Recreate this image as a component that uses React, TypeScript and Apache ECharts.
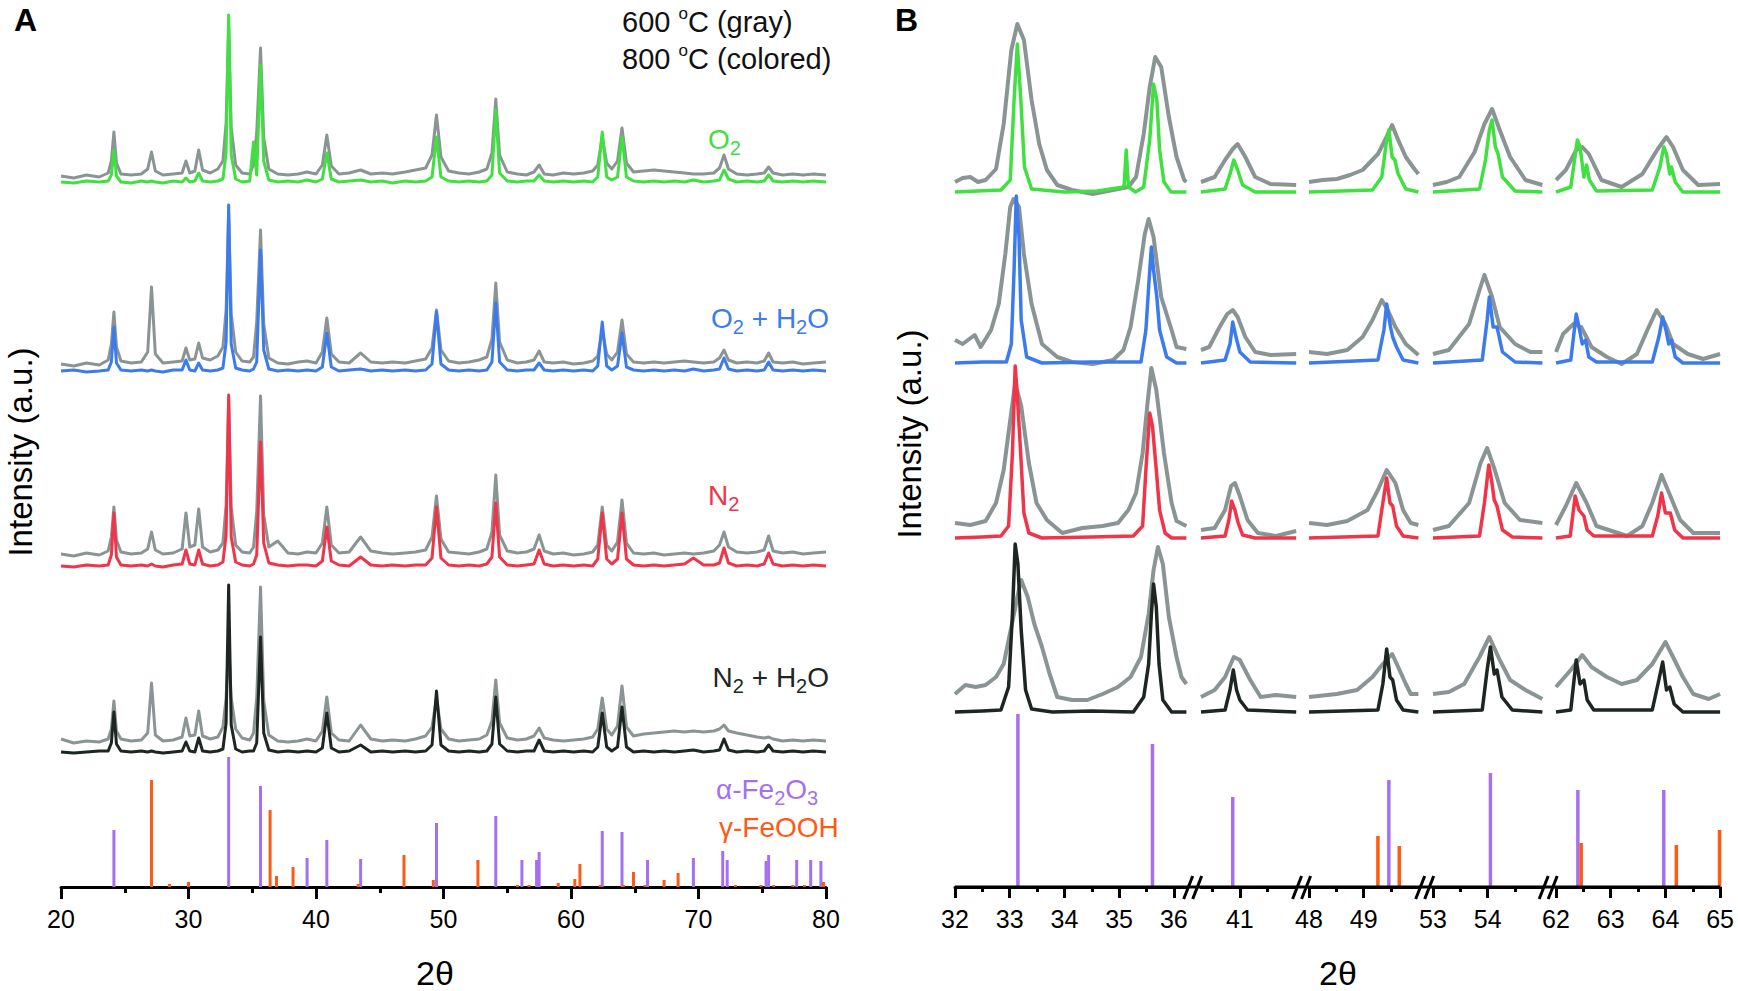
import React, { useEffect, useRef } from "react";
import * as echarts from "echarts";

// ---------------- DATA ----------------
// Panel A: shared 2-theta sampling
const XA = [
  20, 21, 22, 23, 23.7, 23.95, 24.15, 24.35, 24.7, 25.5,
  26.3, 26.8, 27.1, 27.4, 28.0, 28.8, 29.5, 29.8, 30.1, 30.5,
  30.8, 31.1, 31.7, 32.3, 32.7, 32.95, 33.15, 33.35, 33.7, 34.2,
  34.8, 35.1, 35.35, 35.65, 35.9, 36.3, 37.0, 37.8, 38.6, 39.3,
  40.0, 40.5, 40.85, 41.2, 41.8, 42.6, 43.5, 44.3, 45.2, 46.0,
  47.0, 47.8, 48.6, 49.1, 49.45, 49.8, 50.4, 51.2, 52.0, 52.8,
  53.4, 53.8, 54.1, 54.4, 55.0, 55.8, 56.5, 57.1, 57.5, 57.9,
  58.6, 59.4, 60.2, 61.0, 61.7, 62.1, 62.45, 62.8, 63.2, 63.65,
  64.0, 64.35, 64.9, 65.7, 66.5, 67.3, 68.1, 68.9, 69.6, 70.4,
  71.2, 71.65, 72.0, 72.35, 73.0, 73.8, 74.6, 75.15, 75.5, 75.85,
  76.6, 77.4, 78.2, 79.0, 80.0,
];

// intensities (a.u.) above each pattern's own baseline
const A_O2 = [
  1, 0, 2, 1, 2, 8, 33, 7, 1, 0,
  2, 1, 2, 1, 0, 2, 1, 5, 1, 2,
  10, 2, 1, 2, 4, 30, 168, 28, 4, 1,
  2, 41, 8, 118, 22, 3, 1, 2, 1, 3,
  1, 4, 30, 4, 1, 2, 3, 1, 2, 0,
  2, 1, 2, 6, 46, 6, 2, 1, 2, 1,
  2, 8, 73, 10, 2, 1, 2, 2, 8, 2,
  1, 2, 1, 2, 1, 6, 51, 6, 3, 6,
  46, 6, 2, 1, 2, 1, 2, 1, 3, 1,
  2, 3, 13, 4, 1, 2, 1, 2, 8, 2,
  1, 2, 1, 2, 1,
];
const A_O2_GRAY = [
  7, 5, 8, 6, 10, 22, 51, 20, 9, 8,
  9, 14, 31, 12, 8, 9, 10, 22, 10, 12,
  33, 13, 10, 14, 22, 60, 158, 55, 18, 10,
  9, 18, 50, 135, 45, 14, 9, 8, 9, 11,
  9, 18, 48, 17, 9, 10, 13, 9, 10, 9,
  11, 13, 15, 28, 68, 26, 12, 10, 9, 11,
  14, 30, 84, 28, 11, 9, 8, 11, 18, 9,
  8, 10, 9, 10, 12, 18, 46, 20, 14, 22,
  55, 20, 11, 12, 13, 12, 11, 10, 9, 9,
  10, 15, 28, 14, 9, 8, 9, 10, 16, 10,
  8, 9, 8, 9, 8,
];
const A_O2H2O = [
  1, 2, 0, 1, 2, 10, 45, 9, 2, 1,
  2, 1, 2, 1, 0, 2, 2, 12, 2, 1,
  9, 2, 1, 2, 4, 30, 167, 28, 4, 2,
  1, 3, 10, 122, 22, 3, 1, 2, 1, 2,
  1, 5, 39, 5, 1, 2, 3, 1, 2, 1,
  2, 1, 2, 8, 60, 8, 2, 1, 2, 1,
  2, 10, 69, 10, 2, 1, 2, 2, 9, 2,
  1, 2, 1, 2, 1, 6, 50, 6, 2, 6,
  39, 5, 2, 1, 2, 1, 2, 1, 3, 1,
  2, 3, 14, 3, 1, 2, 1, 2, 10, 2,
  1, 2, 1, 2, 1,
];
const A_O2H2O_GRAY = [
  8, 6, 9, 7, 12, 28, 60, 25, 11, 9,
  10, 20, 85, 18, 9, 10, 11, 24, 12, 13,
  29, 14, 12, 16, 25, 62, 158, 58, 20, 11,
  10, 15, 50, 142, 48, 14, 9, 8, 10, 11,
  9, 20, 54, 18, 10, 9, 19, 10, 9, 10,
  9, 11, 13, 24, 62, 22, 11, 9, 10, 12,
  15, 33, 89, 30, 12, 9, 10, 12, 21, 10,
  9, 10, 8, 9, 11, 16, 42, 18, 12, 20,
  52, 18, 10, 9, 10, 9, 10, 11, 10, 9,
  10, 14, 22, 12, 9, 10, 9, 11, 19, 10,
  9, 10, 8, 9, 10,
];
const A_N2 = [
  1, 0, 2, 1, 2, 12, 54, 10, 2, 1,
  2, 1, 3, 1, 0, 2, 3, 17, 3, 2,
  17, 3, 1, 2, 5, 32, 172, 30, 5, 2,
  1, 3, 12, 125, 24, 4, 2, 1, 2, 2,
  1, 6, 40, 6, 2, 1, 10, 2, 1, 2,
  1, 2, 2, 9, 60, 9, 2, 1, 2, 1,
  3, 10, 64, 10, 2, 1, 2, 3, 17, 3,
  1, 2, 1, 2, 1, 8, 54, 8, 3, 8,
  54, 8, 2, 1, 2, 1, 2, 3, 9, 2,
  2, 4, 19, 4, 1, 2, 1, 3, 14, 3,
  1, 2, 1, 2, 1,
];
const A_N2_GRAY = [
  13, 11, 14, 12, 16, 30, 60, 27, 15, 13,
  14, 18, 35, 17, 13, 14, 18, 54, 20, 22,
  58, 20, 15, 17, 24, 62, 167, 60, 22, 15,
  14, 20, 55, 171, 52, 20, 26, 14, 13, 15,
  14, 24, 60, 22, 14, 15, 30, 16, 14, 13,
  14, 15, 17, 30, 71, 28, 15, 14, 13, 15,
  18, 35, 92, 32, 16, 14, 15, 18, 32, 16,
  13, 14, 12, 13, 15, 22, 60, 22, 16, 25,
  67, 24, 14, 13, 14, 12, 13, 14, 13, 14,
  16, 22, 35, 20, 15, 14, 15, 17, 31, 16,
  14, 15, 13, 14, 15,
];
const A_N2H2O = [
  1, 0, 1, 2, 2, 10, 41, 9, 2, 1,
  2, 1, 2, 1, 0, 1, 2, 11, 2, 1,
  15, 2, 1, 2, 4, 30, 168, 28, 4, 1,
  2, 2, 10, 116, 20, 3, 1, 2, 1, 2,
  1, 5, 40, 5, 1, 2, 8, 1, 2, 1,
  2, 1, 2, 8, 62, 8, 2, 1, 2, 1,
  2, 9, 56, 9, 2, 1, 2, 2, 13, 2,
  1, 2, 1, 2, 1, 6, 40, 6, 2, 6,
  46, 6, 1, 2, 1, 2, 1, 2, 3, 1,
  2, 3, 14, 3, 1, 2, 1, 2, 8, 2,
  1, 2, 1, 2, 1,
];
const A_N2H2O_GRAY = [
  14, 10, 12, 11, 14, 24, 52, 22, 14, 12,
  13, 20, 70, 18, 12, 13, 16, 35, 17, 18,
  42, 17, 14, 16, 26, 55, 109, 55, 24, 15,
  13, 20, 55, 166, 52, 18, 12, 11, 12, 14,
  12, 22, 56, 20, 13, 12, 28, 14, 12, 13,
  12, 14, 17, 26, 55, 24, 14, 12, 13, 14,
  18, 32, 73, 30, 15, 13, 14, 17, 25, 15,
  13, 12, 13, 14, 16, 24, 55, 24, 18, 27,
  67, 26, 17, 19, 20, 21, 22, 21, 22, 21,
  22, 24, 28, 22, 20, 18, 16, 15, 16, 14,
  12, 13, 12, 13, 12,
];

// reference patterns (panel A)
const A_HEM = [
  [24.15, 57], [33.15, 130], [35.65, 101], [39.3, 29], [40.85, 47], [43.5, 28],
  [49.45, 64], [54.1, 71], [56.15, 27], [57.3, 27], [57.5, 35], [62.45, 56],
  [64.0, 55], [66.0, 27], [69.6, 29], [71.9, 36], [72.25, 27], [75.3, 26],
  [75.5, 32], [77.7, 27], [78.8, 27], [79.6, 26],
];
const A_LEP = [
  [27.1, 107], [28.5, 3], [30.0, 5], [36.4, 77], [36.9, 11], [38.2, 20],
  [43.3, 3], [46.9, 32], [49.2, 7], [52.7, 27], [55.8, 2], [56.7, 2],
  [59.0, 4], [60.3, 8], [60.7, 23], [62.3, 2], [64.1, 2], [64.9, 15],
  [65.8, 2], [67.3, 7], [68.4, 14], [72.9, 2], [74.9, 2], [75.9, 2],
  [77.4, 2], [78.3, 2], [79.8, 5],
];

// Panel B: [2theta, intensity above baseline]
const B_O2_GRAY = [
  [32.0, 10], [32.14, 14], [32.28, 15], [32.42, 10], [32.56, 12], [32.75, 23], [32.89, 68], [33.03, 142], [33.14, 168],
  [33.26, 152], [33.4, 92], [33.54, 48], [33.68, 22], [33.87, 7], [34.14, 2], [34.52, -2], [34.89, 2],
  [35.17, 5], [35.31, 15], [35.45, 58], [35.56, 105], [35.66, 135], [35.77, 125], [35.91, 75], [36.05, 35],
  [36.19, 12], [36.23, 10],
  [40.29, 10], [40.54, 15], [40.73, 32], [40.87, 43], [40.96, 48], [41.1, 35], [41.28, 15], [41.56, 8], [42.03, 7],
  [48.0, 10], [48.25, 12], [48.51, 13], [48.75, 17], [48.98, 22], [49.26, 38], [49.39, 52], [49.52, 67], [49.63, 52],
  [49.77, 35], [49.9, 25], [50.0, 18],
  [53.0, 7], [53.25, 10], [53.48, 15], [53.76, 40], [53.94, 68], [54.08, 83], [54.22, 62], [54.41, 35], [54.69, 12], [55.0, 7],
  [62.0, 12], [62.18, 22], [62.37, 42], [62.48, 45], [62.6, 38], [62.83, 12], [63.2, 5], [63.58, 18], [63.86, 43],
  [64.02, 55], [64.14, 45], [64.32, 22], [64.6, 7], [65.0, 8],
];
const B_O2 = [
  [32.0, 0], [32.4, 1], [32.84, 2], [33.01, 12], [33.08, 92], [33.14, 148], [33.2, 95], [33.27, 25], [33.4, 3],
  [34.0, 0], [34.6, 1], [35.09, 5], [35.13, 42], [35.17, 5], [35.3, 0], [35.45, 5], [35.56, 52], [35.63, 108],
  [35.69, 92], [35.74, 42], [35.82, 10], [35.95, 0], [36.23, 0],
  [40.29, 0], [40.73, 3], [40.82, 18], [40.89, 32], [40.96, 22], [41.05, 7], [41.28, 0], [42.03, 0],
  [48.0, 0], [49.16, 2], [49.33, 15], [49.42, 52], [49.46, 62], [49.52, 35], [49.57, 32], [49.63, 18], [49.77, 3], [50.0, 0],
  [53.0, 0], [53.85, 3], [53.96, 32], [54.03, 62], [54.08, 72], [54.14, 45], [54.19, 38], [54.27, 15], [54.5, 1], [55.0, 0],
  [62.0, 0], [62.27, 5], [62.39, 52], [62.44, 45], [62.51, 15], [62.56, 27], [62.61, 12], [62.74, 1], [63.76, 2],
  [63.9, 25], [63.97, 45], [64.02, 38], [64.08, 18], [64.11, 25], [64.18, 10], [64.32, 0], [65.0, 0],
];
const B_O2H2O_GRAY = [
  [32.0, 23], [32.14, 19], [32.36, 28], [32.47, 16], [32.66, 33], [32.8, 59], [32.92, 109], [33.01, 156], [33.07, 164],
  [33.17, 156], [33.26, 109], [33.4, 59], [33.59, 19], [33.87, 6], [34.14, 1], [34.52, -1], [34.89, 3], [35.08, 13],
  [35.21, 36], [35.35, 83], [35.47, 129], [35.54, 144], [35.63, 126], [35.77, 66], [35.96, 33], [36.05, 16], [36.23, 14],
  [40.29, 13], [40.44, 16], [40.63, 36], [40.77, 49], [40.87, 53], [40.96, 46], [41.1, 26], [41.28, 11], [41.56, 8], [42.03, 9],
  [48.0, 11], [48.33, 9], [48.7, 13], [48.98, 26], [49.16, 43], [49.33, 63], [49.44, 53], [49.58, 36], [49.77, 19], [50.0, 8],
  [53.0, 9], [53.29, 13], [53.66, 39], [53.85, 73], [53.94, 88], [54.08, 66], [54.22, 36], [54.5, 19], [54.78, 11], [55.0, 11],
  [62.0, 11], [62.13, 29], [62.32, 39], [62.46, 36], [62.65, 16], [62.93, 6], [63.2, -1], [63.48, 9], [63.67, 33],
  [63.84, 53], [64.0, 39], [64.14, 19], [64.41, 9], [64.69, 4], [65.0, 9],
];
const B_O2H2O = [
  [32.0, 0], [32.5, 1], [32.94, 1], [33.03, 19], [33.08, 93], [33.12, 167], [33.17, 126], [33.21, 43], [33.31, 6],
  [33.59, 0], [34.5, 1], [35.4, 1], [35.49, 33], [35.54, 76], [35.59, 116], [35.63, 93], [35.69, 66], [35.74, 33],
  [35.87, 6], [36.05, 0], [36.23, 0],
  [40.29, 0], [40.73, 3], [40.82, 19], [40.87, 41], [40.93, 26], [41.0, 11], [41.19, 1], [42.03, 0],
  [48.0, 0], [49.26, 3], [49.37, 33], [49.42, 59], [49.49, 36], [49.53, 26], [49.6, 16], [49.72, 3], [50.0, 0],
  [53.0, 0], [53.9, 3], [53.99, 43], [54.03, 66], [54.1, 36], [54.17, 36], [54.27, 11], [54.5, 1], [55.0, 0],
  [62.0, 0], [62.27, 3], [62.37, 49], [62.42, 36], [62.48, 19], [62.54, 23], [62.6, 6], [62.74, 1], [63.76, 1],
  [63.88, 26], [63.95, 46], [64.01, 33], [64.06, 19], [64.11, 23], [64.18, 6], [64.32, 0], [65.0, 0],
];
const B_N2_GRAY = [
  [32.0, 15], [32.28, 13], [32.56, 17], [32.75, 35], [32.89, 68], [33.01, 118], [33.1, 155], [33.21, 132], [33.35, 75],
  [33.49, 35], [33.68, 18], [33.96, 5], [34.33, 10], [34.7, 12], [34.98, 15], [35.17, 28], [35.31, 45], [35.43, 85],
  [35.52, 135], [35.59, 170], [35.68, 148], [35.82, 85], [35.96, 35], [36.05, 17], [36.23, 12],
  [40.29, 8], [40.54, 10], [40.73, 28], [40.84, 52], [40.91, 55], [41.0, 42], [41.14, 18], [41.33, 5], [41.66, 2], [42.03, 7],
  [48.0, 15], [48.33, 13], [48.7, 17], [49.07, 28], [49.26, 48], [49.42, 68], [49.58, 55], [49.72, 28], [49.86, 15], [50.0, 13],
  [53.0, 8], [53.29, 12], [53.66, 35], [53.87, 75], [53.99, 90], [54.13, 68], [54.31, 35], [54.59, 18], [55.0, 15],
  [62.0, 13], [62.18, 32], [62.37, 55], [62.56, 35], [62.74, 12], [63.02, 7], [63.3, 2], [63.58, 12], [63.76, 35],
  [63.93, 63], [64.09, 42], [64.27, 18], [64.51, 5], [65.0, 5],
];
const B_N2 = [
  [32.0, 0], [32.5, 1], [32.84, 2], [32.98, 12], [33.05, 85], [33.1, 172], [33.14, 142], [33.2, 85], [33.26, 25],
  [33.35, 5], [33.59, 0], [34.5, 1], [35.26, 2], [35.43, 12], [35.49, 68], [35.56, 125], [35.61, 112], [35.68, 68],
  [35.74, 28], [35.84, 5], [35.96, 0], [36.23, 0],
  [40.29, 0], [40.73, 2], [40.8, 18], [40.85, 37], [40.91, 28], [40.97, 15], [41.05, 3], [41.28, 0], [42.03, 0],
  [48.0, 0], [49.26, 2], [49.35, 35], [49.42, 60], [49.48, 35], [49.53, 32], [49.6, 12], [49.72, 2], [50.0, 0],
  [53.0, 0], [53.85, 2], [53.94, 35], [54.02, 73], [54.07, 58], [54.12, 38], [54.17, 32], [54.27, 8], [54.45, 1], [55.0, 0],
  [62.0, 0], [62.26, 2], [62.35, 42], [62.42, 28], [62.51, 22], [62.57, 8], [62.69, 2], [63.76, 2], [63.86, 22],
  [63.93, 45], [64.0, 25], [64.09, 25], [64.17, 8], [64.32, 0], [65.0, 0],
];
const B_N2H2O_GRAY = [
  [32.0, 18], [32.19, 27], [32.38, 25], [32.56, 27], [32.75, 35], [32.89, 48], [33.03, 85], [33.14, 115], [33.21, 132],
  [33.33, 115], [33.45, 88], [33.59, 65], [33.73, 38], [33.87, 15], [34.14, 12], [34.42, 12], [34.7, 18], [34.98, 25],
  [35.21, 35], [35.4, 55], [35.54, 98], [35.63, 142], [35.71, 165], [35.8, 148], [35.91, 95], [36.05, 55], [36.14, 35], [36.23, 28],
  [40.29, 15], [40.54, 22], [40.73, 35], [40.89, 55], [41.0, 52], [41.19, 32], [41.38, 15], [41.66, 17], [42.03, 15],
  [48.0, 15], [48.51, 18], [48.88, 22], [49.16, 35], [49.35, 48], [49.52, 58], [49.63, 45], [49.77, 28], [49.86, 18], [50.0, 18],
  [53.0, 18], [53.29, 20], [53.57, 28], [53.85, 55], [54.03, 75], [54.22, 52], [54.41, 32], [54.69, 22], [55.0, 13],
  [62.0, 25], [62.27, 42], [62.48, 57], [62.65, 45], [62.93, 35], [63.2, 28], [63.48, 32], [63.76, 48], [64.0, 70],
  [64.14, 55], [64.32, 35], [64.51, 18], [64.79, 13], [65.0, 18],
];
const B_N2H2O = [
  [32.0, 0], [32.5, 1], [32.84, 2], [32.98, 25], [33.05, 98], [33.1, 168], [33.15, 148], [33.21, 82], [33.29, 22],
  [33.4, 3], [33.78, 0], [34.5, 1], [35.26, 0], [35.45, 15], [35.54, 48], [35.59, 98], [35.63, 128], [35.68, 105],
  [35.73, 48], [35.8, 12], [35.96, 0], [36.23, 0],
  [40.29, 0], [40.73, 2], [40.82, 22], [40.88, 42], [40.94, 22], [41.0, 12], [41.14, 2], [42.03, 0],
  [48.0, 0], [49.26, 2], [49.35, 28], [49.42, 63], [49.48, 35], [49.53, 32], [49.6, 12], [49.72, 2], [50.0, 0],
  [53.0, 0], [53.9, 2], [53.99, 42], [54.05, 65], [54.12, 38], [54.17, 42], [54.26, 15], [54.45, 2], [55.0, 0],
  [62.0, 0], [62.27, 2], [62.37, 52], [62.44, 28], [62.51, 32], [62.57, 12], [62.69, 2], [63.76, 2], [63.88, 32],
  [63.95, 50], [64.02, 22], [64.08, 25], [64.16, 8], [64.32, 0], [65.0, 0],
];
const B_HEM = [[33.15, 173], [35.61, 143], [40.87, 90], [49.46, 107], [54.05, 114], [62.4, 97], [63.97, 97]];
const B_LEP = [[49.26, 51], [49.65, 41], [62.46, 44], [64.2, 42], [64.99, 57]];

// axis ranges / tick labels
const A_XMIN = 20, A_XMAX = 80, A_XSTEP = 10;
const B_SEGMENTS = [[32, 36.23], [40.29, 42.03], [48, 50], [53, 55], [62, 65]];
const B_MAJOR = [[32, 33, 34, 35, 36], [41], [48, 49], [53, 54], [62, 63, 64, 65]];
const B_MINOR = [[32.5, 33.5, 34.5, 35.5], [40.5, 41.5], [48.5, 49.5], [53.5, 54.5], [62.5, 63.5, 64.5]];

// ---------------- STYLE / LAYOUT ----------------
const FONT = "'Liberation Sans', Arial, Helvetica, sans-serif";
const GRAY = "#8a9494";
const PURPLE = "#a570f0";
const ORANGE = "#ff5a14";
const TRACES = [
  { color: "#3fe03f", a: A_O2, aGray: A_O2_GRAY, b: B_O2, bGray: B_O2_GRAY },
  { color: "#3b7bee", a: A_O2H2O, aGray: A_O2H2O_GRAY, b: B_O2H2O, bGray: B_O2H2O_GRAY },
  { color: "#f0344a", a: A_N2, aGray: A_N2_GRAY, b: B_N2, bGray: B_N2_GRAY },
  { color: "#1e2622", a: A_N2H2O, aGray: A_N2H2O_GRAY, b: B_N2H2O, bGray: B_N2H2O_GRAY },
];
const A_OFFSETS = [704, 515, 320, 134];
const B_OFFSETS = [695, 524, 349, 175];
const W = 1738, H = 991;
const AXIS_Y = 887;
const GRID_TOP = 7;
const Y_MAX = AXIS_Y - GRID_TOP;
const A_LEFT = 61, A_RIGHT = 826;
const B_LEFTS = [955, 1201, 1309, 1433, 1556];
const B_PX_PER_DEG = 54.7;

function lineSeries(xi: number, yi: number, data: number[][], color: string, width: number, z: number) {
  return {
    type: "line", xAxisIndex: xi, yAxisIndex: yi, data, showSymbol: false, symbol: "none",
    lineStyle: { color, width, join: "round" }, itemStyle: { color }, silent: true, z,
  };
}
function stickSeries(xi: number, yi: number, data: number[][], color: string, width: number) {
  return {
    type: "bar", xAxisIndex: xi, yAxisIndex: yi, data, barWidth: width, barGap: "-100%",
    itemStyle: { color }, silent: true, z: 1,
  };
}
function subRich(color: string, size: number, sub: number) {
  return {
    m: { fontSize: size, fontFamily: FONT, fill: color, color, lineHeight: size + 10 },
    s: { fontSize: sub, fontFamily: FONT, fill: color, color, verticalAlign: "bottom", lineHeight: Math.round(sub * 0.6) },
  };
}
function textEl(x: number, y: number, text: string, rich: any, align: string, extra: any = {}) {
  return {
    type: "text", x, y, z: 50,
    style: { text, rich, align, textAlign: align, verticalAlign: "middle", textVerticalAlign: "middle", ...extra },
  };
}

function buildOption() {
  const grid: any[] = [];
  const xAxis: any[] = [];
  const yAxis: any[] = [];
  const series: any[] = [];
  const axisLine = { show: true, onZero: false, lineStyle: { color: "#000", width: 3 } };
  const labelStyle = { color: "#000", fontSize: 25, fontFamily: FONT, margin: 19 };

  // Panel A
  grid.push({ left: A_LEFT, top: GRID_TOP, width: A_RIGHT - A_LEFT, height: Y_MAX });
  xAxis.push({
    type: "value", gridIndex: 0, min: A_XMIN, max: A_XMAX, interval: A_XSTEP, position: "bottom",
    axisLine, axisTick: { show: true, length: 12, lineStyle: { color: "#000", width: 3 } },
    minorTick: { show: true, splitNumber: 2, length: 6, lineStyle: { color: "#000", width: 3 } },
    axisLabel: labelStyle, splitLine: { show: false }, minorSplitLine: { show: false },
  });
  yAxis.push({ type: "value", gridIndex: 0, min: 0, max: Y_MAX, show: false });
  series.push(stickSeries(0, 0, A_HEM, PURPLE, 3));
  series.push(stickSeries(0, 0, A_LEP, ORANGE, 3));
  TRACES.forEach((t, k) => {
    series.push(lineSeries(0, 0, XA.map((x, i) => [x, t.aGray[i] + A_OFFSETS[k]]), GRAY, 3, 2));
  });
  TRACES.forEach((t, k) => {
    series.push(lineSeries(0, 0, XA.map((x, i) => [x, t.a[i] + A_OFFSETS[k]]), t.color, 3, 3));
  });

  // Panel B (broken axis -> one grid per segment)
  B_SEGMENTS.forEach(([lo, hi], s) => {
    const gi = grid.length;
    grid.push({ left: B_LEFTS[s], top: GRID_TOP, width: (hi - lo) * B_PX_PER_DEG, height: Y_MAX });
    const xi = xAxis.length;
    xAxis.push({
      type: "value", gridIndex: gi, min: lo, max: hi, position: "bottom",
      axisLine, axisTick: { show: true, customValues: B_MAJOR[s], length: 11, lineStyle: { color: "#000", width: 3 } },
      axisLabel: { ...labelStyle, customValues: B_MAJOR[s] }, splitLine: { show: false },
    });
    xAxis.push({
      type: "value", gridIndex: gi, min: lo, max: hi, position: "bottom",
      axisLine: { show: false, onZero: false },
      axisTick: { show: true, customValues: B_MINOR[s], length: 5, lineStyle: { color: "#000", width: 3 } },
      axisLabel: { show: false }, splitLine: { show: false },
    });
    const yi = yAxis.length;
    yAxis.push({ type: "value", gridIndex: gi, min: 0, max: Y_MAX, show: false });
    const inSeg = (p: number[]) => p[0] >= lo - 1e-6 && p[0] <= hi + 1e-6;
    series.push(stickSeries(xi, yi, B_HEM.filter(inSeg), PURPLE, 3.5));
    series.push(stickSeries(xi, yi, B_LEP.filter(inSeg), ORANGE, 3.5));
    TRACES.forEach((t, k) => {
      series.push(lineSeries(xi, yi, t.bGray.filter(inSeg).map((p) => [p[0], p[1] + B_OFFSETS[k]]), GRAY, 4, 2));
    });
    TRACES.forEach((t, k) => {
      series.push(lineSeries(xi, yi, t.b.filter(inSeg).map((p) => [p[0], p[1] + B_OFFSETS[k]]), t.color, 3.5, 3));
    });
  });

  // graphics: broken-axis connectors, break marks and texts
  const graphic: any[] = [];
  const segEnds = B_SEGMENTS.map(([lo, hi], s) => B_LEFTS[s] + (hi - lo) * B_PX_PER_DEG);
  graphic.push({
    type: "line", z: 5, shape: { x1: B_LEFTS[0], y1: AXIS_Y, x2: segEnds[segEnds.length - 1], y2: AXIS_Y },
    style: { stroke: "#000", lineWidth: 3 },
  });
  for (let s = 0; s < B_SEGMENTS.length - 1; s++) {
    const cx = (segEnds[s] + B_LEFTS[s + 1]) / 2;
    [-5, 4].forEach((o) => {
      graphic.push({
        type: "line", z: 6, shape: { x1: cx + o - 5, y1: AXIS_Y + 12, x2: cx + o + 4, y2: AXIS_Y - 11 },
        style: { stroke: "#000", lineWidth: 3 },
      });
    });
  }
  const plain = { fontFamily: FONT, fill: "#000" };
  graphic.push(textEl(14, 20, "A", null, "left", { ...plain, fontSize: 32, fontWeight: "bold" }));
  graphic.push(textEl(895, 20, "B", null, "left", { ...plain, fontSize: 32, fontWeight: "bold" }));
  const degRich = {
    t: { fontSize: 29, fontFamily: FONT, fill: "#111", color: "#111", lineHeight: 34 },
    o: { fontSize: 17, fontFamily: FONT, fill: "#111", color: "#111", verticalAlign: "top", lineHeight: 17 },
  };
  graphic.push(textEl(622, 22, "{t|600 }{o|o}{t|C (gray)}", degRich, "left"));
  graphic.push(textEl(622, 59, "{t|800 }{o|o}{t|C (colored)}", degRich, "left"));
  graphic.push(textEl(708, 139, "{m|O}{s|2}", subRich("#44dd44", 28, 20), "left"));
  graphic.push(textEl(829, 318, "{m|O}{s|2}{m| + H}{s|2}{m|O}", subRich("#3b7bee", 28, 20), "right"));
  graphic.push(textEl(708, 495, "{m|N}{s|2}", subRich("#f0344a", 28, 20), "left"));
  graphic.push(textEl(829, 677, "{m|N}{s|2}{m| + H}{s|2}{m|O}", subRich("#1e2622", 28, 20), "right"));
  graphic.push(textEl(716, 789, "{m|\u03b1-Fe}{s|2}{m|O}{s|3}", subRich(PURPLE, 28, 20), "left"));
  graphic.push(textEl(719, 827, "{m|\u03b3-FeOOH}", subRich(ORANGE, 28, 20), "left"));
  graphic.push(textEl(435, 973, "2\u03b8", null, "center", { ...plain, fontSize: 34 }));
  graphic.push(textEl(1338, 973, "2\u03b8", null, "center", { ...plain, fontSize: 34 }));
  graphic.push({
    type: "text", x: 20, y: 452, rotation: Math.PI / 2, z: 50,
    style: { ...plain, text: "Intensity (a.u.)", fontSize: 33, align: "center", textAlign: "center", verticalAlign: "middle", textVerticalAlign: "middle" },
  });
  graphic.push({
    type: "text", x: 909, y: 434, rotation: Math.PI / 2, z: 50,
    style: { ...plain, text: "Intensity (a.u.)", fontSize: 33, align: "center", textAlign: "center", verticalAlign: "middle", textVerticalAlign: "middle" },
  });

  return { animation: false, backgroundColor: "#fff", grid, xAxis, yAxis, series, graphic };
}

export default function App() {
  const ref = useRef<HTMLDivElement>(null);
  useEffect(() => {
    if (!ref.current) return;
    const chart = echarts.init(ref.current, null, { renderer: "svg" });
    chart.setOption(buildOption() as any);
    return () => chart.dispose();
  }, []);
  return <div ref={ref} style={{ position: "fixed", left: 0, top: 0, width: W, height: H, background: "#fff" }} />;
}
